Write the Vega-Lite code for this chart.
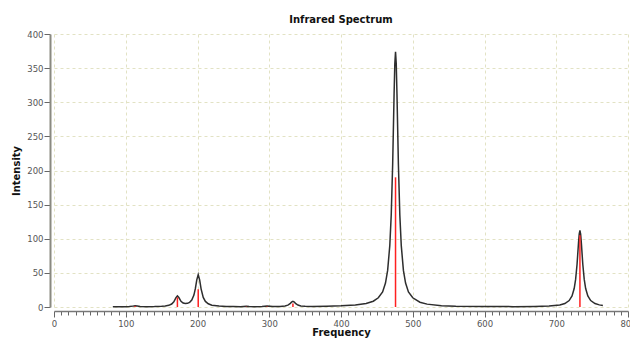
{
  "$schema": "https://vega.github.io/schema/vega-lite/v6.json",
  "width": 574,
  "height": 273,
  "autosize": {"type": "none"},
  "padding": {"left": 54, "top": 34, "right": 2, "bottom": 33},
  "background": "white",
  "title": {"text": "Infrared Spectrum", "font": "DejaVu Sans", "fontSize": 10, "fontWeight": "bold", "color": "#111", "offset": 5},
  "config": {"view": {"stroke": null}},
  "datasets": {
    "curve": [
      {"freq": 82, "intensity": 0.19}, {"freq": 90, "intensity": 0.23}, {"freq": 100, "intensity": 0.36},
      {"freq": 105, "intensity": 0.58}, {"freq": 110, "intensity": 1.28}, {"freq": 113, "intensity": 1.76},
      {"freq": 116, "intensity": 1.32}, {"freq": 120, "intensity": 0.75}, {"freq": 130, "intensity": 0.52},
      {"freq": 140, "intensity": 0.65}, {"freq": 150, "intensity": 1.05}, {"freq": 155, "intensity": 1.51},
      {"freq": 160, "intensity": 2.47}, {"freq": 164, "intensity": 4.36}, {"freq": 167, "intensity": 7.58},
      {"freq": 170, "intensity": 13.56}, {"freq": 172, "intensity": 16.17}, {"freq": 174, "intensity": 13.86},
      {"freq": 177, "intensity": 8.37}, {"freq": 180, "intensity": 5.73}, {"freq": 183, "intensity": 4.98},
      {"freq": 186, "intensity": 5.35}, {"freq": 189, "intensity": 6.84}, {"freq": 192, "intensity": 10.18},
      {"freq": 195, "intensity": 17.5}, {"freq": 197, "intensity": 26.8}, {"freq": 199, "intensity": 39.7},
      {"freq": 201, "intensity": 47.5}, {"freq": 203, "intensity": 39.6}, {"freq": 205, "intensity": 26.6},
      {"freq": 208, "intensity": 14.0}, {"freq": 211, "intensity": 8.2}, {"freq": 215, "intensity": 4.7},
      {"freq": 220, "intensity": 2.7}, {"freq": 230, "intensity": 1.3}, {"freq": 240, "intensity": 0.82},
      {"freq": 250, "intensity": 0.61}, {"freq": 260, "intensity": 0.49}, {"freq": 264, "intensity": 0.77},
      {"freq": 268, "intensity": 1.0}, {"freq": 272, "intensity": 0.73}, {"freq": 280, "intensity": 0.54},
      {"freq": 290, "intensity": 0.72}, {"freq": 297, "intensity": 1.45}, {"freq": 305, "intensity": 0.78},
      {"freq": 315, "intensity": 0.88}, {"freq": 322, "intensity": 1.56}, {"freq": 326, "intensity": 2.73},
      {"freq": 329, "intensity": 4.88}, {"freq": 331, "intensity": 7.1}, {"freq": 333, "intensity": 8.4},
      {"freq": 335, "intensity": 7.1}, {"freq": 337, "intensity": 4.9}, {"freq": 340, "intensity": 2.8},
      {"freq": 344, "intensity": 1.6}, {"freq": 350, "intensity": 1.05}, {"freq": 360, "intensity": 0.8},
      {"freq": 380, "intensity": 1.1}, {"freq": 400, "intensity": 1.8}, {"freq": 420, "intensity": 3.0},
      {"freq": 435, "intensity": 5.2}, {"freq": 445, "intensity": 8.5}, {"freq": 452, "intensity": 13.5},
      {"freq": 458, "intensity": 22.0}, {"freq": 462, "intensity": 35.1}, {"freq": 465, "intensity": 53.6},
      {"freq": 468, "intensity": 89.9}, {"freq": 470, "intensity": 134.6}, {"freq": 472, "intensity": 208.9},
      {"freq": 474, "intensity": 312.3}, {"freq": 475, "intensity": 356.4}, {"freq": 476, "intensity": 374},
      {"freq": 477, "intensity": 356.4}, {"freq": 478, "intensity": 312.3}, {"freq": 480, "intensity": 208.9},
      {"freq": 482, "intensity": 134.6}, {"freq": 484, "intensity": 89.9}, {"freq": 487, "intensity": 53.6},
      {"freq": 490, "intensity": 35.1}, {"freq": 494, "intensity": 22.0}, {"freq": 500, "intensity": 13.5},
      {"freq": 510, "intensity": 7.0}, {"freq": 520, "intensity": 4.2}, {"freq": 540, "intensity": 2.0},
      {"freq": 560, "intensity": 1.15}, {"freq": 600, "intensity": 0.62}, {"freq": 640, "intensity": 0.54},
      {"freq": 670, "intensity": 0.77}, {"freq": 690, "intensity": 1.38}, {"freq": 705, "intensity": 2.97},
      {"freq": 712, "intensity": 5.06}, {"freq": 718, "intensity": 9.4}, {"freq": 722, "intensity": 16.2},
      {"freq": 725, "intensity": 27.0}, {"freq": 727, "intensity": 40.4}, {"freq": 729, "intensity": 62.7},
      {"freq": 731, "intensity": 93.6}, {"freq": 732, "intensity": 106.8}, {"freq": 733, "intensity": 112.1},
      {"freq": 734, "intensity": 106.8}, {"freq": 735, "intensity": 93.6}, {"freq": 737, "intensity": 62.7},
      {"freq": 739, "intensity": 40.4}, {"freq": 741, "intensity": 27.0}, {"freq": 744, "intensity": 16.2},
      {"freq": 748, "intensity": 9.4}, {"freq": 754, "intensity": 5.0}, {"freq": 760, "intensity": 3.1},
      {"freq": 765, "intensity": 2.2}
    ],
    "sticks": [
      {"freq": 113, "intensity": 1.5, "base": 0}, {"freq": 172, "intensity": 14, "base": 0}, {"freq": 201, "intensity": 26, "base": 0},
      {"freq": 268, "intensity": 0.5, "base": 0}, {"freq": 297, "intensity": 0.8, "base": 0}, {"freq": 333, "intensity": 5, "base": 0},
      {"freq": 476, "intensity": 190, "base": 0}, {"freq": 733, "intensity": 105, "base": 0}
    ]
  },
  "encoding": {
    "x": {
      "field": "freq", "type": "quantitative",
      "scale": {"domain": [0, 800], "nice": false, "zero": false},
      "axis": {
        "title": "Frequency",
        "titleFont": "DejaVu Sans", "titleFontSize": 10, "titleFontWeight": "bold", "titleColor": "#111",
        "titlePadding": 0,
        "values": [0,10,20,30,40,50,60,70,80,90,100,110,120,130,140,150,160,170,180,190,200,210,220,230,240,250,260,270,280,290,300,310,320,330,340,350,360,370,380,390,400,410,420,430,440,450,460,470,480,490,500,510,520,530,540,550,560,570,580,590,600,610,620,630,640,650,660,670,680,690,700,710,720,730,740,750,760,770,780,790,800],
        "labelExpr": "datum.value % 100 === 0 ? datum.label : ''",
        "labelFont": "DejaVu Sans", "labelFontSize": 8.5, "labelColor": "#555555", "labelPadding": 2,
        "labelOverlap": false, "labelBound": false, "labelFlush": false,
        "offset": 4,
        "domainColor": "#777777", "domainWidth": 1.5,
        "tickColor": "#666666", "tickWidth": 1,
        "tickSize": {"condition": {"test": "datum.value % 100 === 0", "value": 6}, "value": 4},
        "grid": true,
        "gridColor": "#e2e2c4",
        "gridDash": [3, 3],
        "gridOpacity": {"condition": {"test": "datum.value % 100 === 0", "value": 1}, "value": 0}
      }
    },
    "y": {
      "field": "intensity", "type": "quantitative",
      "scale": {"domain": [0, 400], "nice": false},
      "axis": {
        "title": "Intensity",
        "titleFont": "DejaVu Sans", "titleFontSize": 10, "titleFontWeight": "bold", "titleColor": "#111",
        "titlePadding": 5,
        "values": [0, 50, 100, 150, 200, 250, 300, 350, 400],
        "labelOverlap": false,
        "labelFont": "DejaVu Sans", "labelFontSize": 8.5, "labelColor": "#555555", "labelPadding": 1,
        "offset": 4,
        "domainColor": "#8a8a80", "domainWidth": 2,
        "tickColor": "#666666", "tickSize": 6,
        "grid": true, "gridColor": "#e2e2c4", "gridDash": [3, 3]
      }
    }
  },
  "layer": [
    {
      "data": {"name": "curve"},
      "mark": {"type": "line", "color": "#2e2e2e", "strokeWidth": 1.5, "interpolate": "linear"}
    },
    {
      "data": {"name": "sticks"},
      "mark": {"type": "rule", "color": "#ff2020", "strokeWidth": 1.5},
      "encoding": {
        "y2": {"field": "base"}
      }
    }
  ]
}
